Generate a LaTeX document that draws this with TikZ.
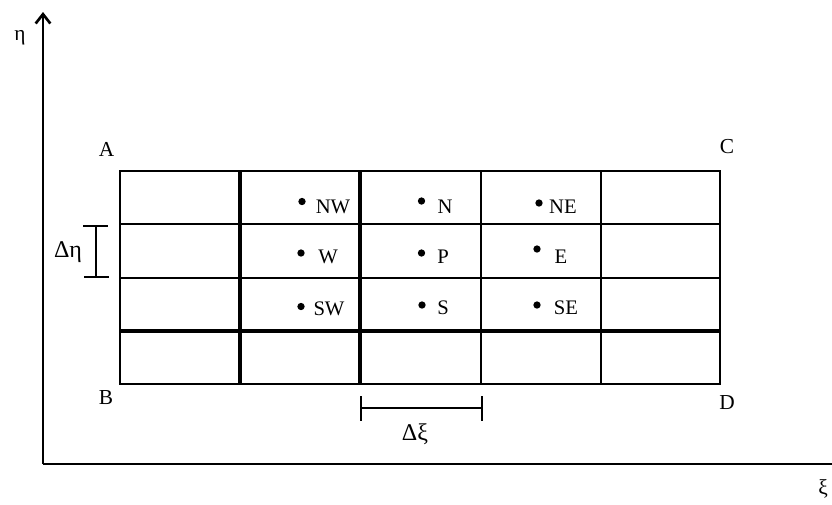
\documentclass[tikz,border=0pt]{standalone}
\usepackage{fontspec}
\setmainfont{Liberation Serif}
\usetikzlibrary{arrows.meta}
\tikzset{
  gridline/.style={line width=2.2pt},
  gridbold/.style={line width=2.9pt},
  axisline/.style={line width=2.2pt, -{Straight Barb[length=7pt,width=11pt,line width=2pt]}},
  dimline/.style={line width=1pt},
  pt/.style={circle, fill=black, inner sep=0pt, minimum size=5.5pt},
  lbl/.style={inner sep=0pt, font=\fontsize{15.5}{18}\selectfont},
  corner/.style={inner sep=0pt, font=\fontsize{16}{19}\selectfont},
  delta/.style={inner sep=0pt, font=\fontsize{18}{21}\selectfont},
}
\begin{document}
\begin{tikzpicture}[x=0.75pt,y=-0.75pt]
\useasboundingbox (0,0) rectangle (832,504);

% axes
\coordinate (O) at (43,464);
\coordinate (Ytip) at (43,12);
\coordinate (Xtip) at (845,464);
\draw[axisline] (O) -- (Ytip);
\draw[axisline] (O) -- (Xtip);
\node[corner] (eta) at (20,38) {η};
\node[corner] (xi) at (823,489) {ξ};

% computational grid: 5 columns x 4 rows
\foreach \y in {224,278} \draw[gridline] (120,\y) -- (720,\y);
\draw[gridbold] (120,331) -- (720,331);
\foreach \x in {481,601} \draw[gridline] (\x,171) -- (\x,384);
\foreach \x in {240,360} \draw[gridbold] (\x,171) -- (\x,384);
\draw[gridline] (120,171) rectangle (720,384);

% corner labels
\node[corner] (A) at (106.5,149) {A};
\node[corner] (C) at (727,147) {C};
\node[corner] (B) at (106,398) {B};
\node[corner] (D) at (727,403) {D};

% grid points and their names
\node[pt] (pNW) at (302,201.5) {};
\node[pt] (pN)  at (421.5,201) {};
\node[pt] (pNE) at (539,203) {};
\node[pt] (pW)  at (301,253) {};
\node[pt] (pP)  at (421.5,253) {};
\node[pt] (pE)  at (537,249) {};
\node[pt] (pSW) at (301,306.5) {};
\node[pt] (pS)  at (422,305) {};
\node[pt] (pSE) at (537,305) {};

\node[lbl] (tNW) at (333,207) {NW};
\node[lbl] (tN)  at (445,207) {N};
\node[lbl] (tNE) at (563,207) {NE};
\node[lbl] (tW)  at (328,257) {W};
\node[lbl] (tP)  at (443,257) {P};
\node[lbl] (tE)  at (561,257) {E};
\node[lbl] (tSW) at (329,309) {SW};
\node[lbl] (tS)  at (443,308) {S};
\node[lbl] (tSE) at (566,308) {SE};

% spacing in eta
\coordinate (de1) at (96,226);
\coordinate (de2) at (96,277);
\draw[dimline] (de1) -- (de2);
\draw[dimline] (83,226) -- (108,226);
\draw[dimline] (84,277) -- (109,277);
\node[delta] (deta) at (68,252) {Δη};

% spacing in xi
\coordinate (dx1) at (361,408);
\coordinate (dx2) at (482,408);
\draw[dimline] (dx1) -- (dx2);
\draw[dimline] (361,396) -- (361,421);
\draw[dimline] (482,396) -- (482,421);
\node[delta] (dxi) at (415,434) {Δξ};
\end{tikzpicture}
\end{document}
